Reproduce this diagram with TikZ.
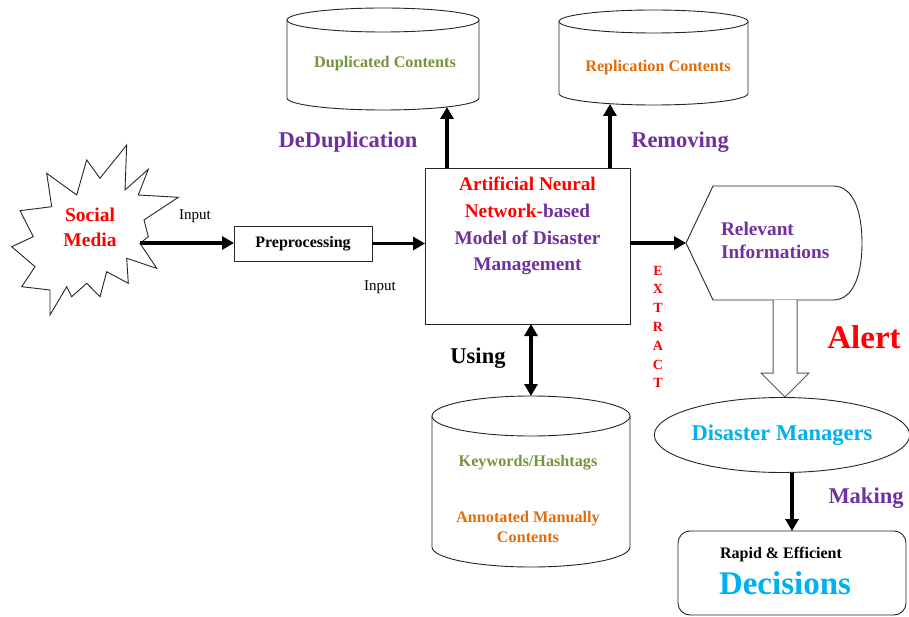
\documentclass[tikz,border=0pt]{standalone}
\usepackage{fontspec}
\setmainfont{Liberation Serif}
\usetikzlibrary{shapes.geometric,arrows.meta}
\definecolor{annred}{HTML}{FF0000}
\definecolor{annpurple}{HTML}{7030A0}
\definecolor{dbgreen}{HTML}{77933C}
\definecolor{dborange}{HTML}{E46C0A}
\definecolor{mgrcyan}{HTML}{00B0F0}
\newcommand{\setfs}[2]{\fontsize{#1}{#2}\selectfont}

\begin{document}
\begin{tikzpicture}[x=1pt,y=-1pt,
  every node/.style={inner sep=0pt,outer sep=0pt},
  outline/.style={draw=black!85,line width=0.9pt},
  arr/.style={line width=3.6pt,-{Triangle[length=12pt,width=13pt]}},
  darr/.style={line width=3.6pt,{Triangle[length=12pt,width=13pt]}-{Triangle[length=12pt,width=13pt]}},
  helper/.style={draw=none,fill=none},
  biglbl/.style={font=\bfseries\setfs{22.5}{26}},
  dbtext/.style={font=\bfseries\setfs{16.2}{20}},
  plain/.style={font=\setfs{15}{18}},
]
\useasboundingbox (0,0) rectangle (909,617);
\fill[white] (0,0) rectangle (909,617);

% ---------- Social media starburst ----------
\draw[outline,fill=white]
  (126.7,145) -- (125,190) -- (148.3,169.3) -- (138.3,195) -- (178.3,197.3)
  -- (144,220) -- (148.3,236.7) -- (140,243.3) -- (156.7,268.3) -- (126.7,258.3)
  -- (128.3,283.3) -- (106.7,271.7) -- (100,296.7) -- (86.7,283.3) -- (71.7,296.7)
  -- (66.7,286.7) -- (50,315) -- (50,290) -- (21.7,286.7) -- (35,266.7)
  -- (11.7,246.7) -- (33.3,236.7) -- (20,210.7) -- (51.7,206.7) -- (46.7,173.3)
  -- (76.7,195) -- (86.7,160) -- (100,178.3) -- cycle;
\node[text=annred,align=center,font=\bfseries\setfs{19.5}{25}] (sm) at (90,227) {Social\\Media};
\coordinate (smtip) at (140,243);

% ---------- Preprocessing ----------
\node[outline,minimum width=138pt,minimum height=35pt,font=\bfseries\setfs{16}{18}]
  (pre) at (303,243.5) {Preprocessing};
\node[plain] (in1) at (195,216) {Input};
\node[plain] (in2) at (380,287) {Input};

% ---------- ANN model ----------
\node[outline,minimum width=205pt,minimum height=156pt] (ann) at (527.5,246) {};
\node[align=center,text=annred,font=\bfseries\setfs{19.3}{26.7}] (anntext) at (527.5,226)
  {Artificial Neural\\Network-{\color{annpurple}based}\\{\color{annpurple}Model of Disaster}\\{\color{annpurple}Management}};

% ---------- Duplicated contents store ----------
\draw[outline,fill=white] (287,20) -- (287,98)
  arc[start angle=180,end angle=360,x radius=96pt,y radius=12pt] -- (479,20);
\draw[outline,fill=white] (383,20) ellipse [x radius=96pt,y radius=12pt];
\node[helper,minimum width=192pt,minimum height=99pt] (dup) at (383,57.5) {};
\node[dbtext,text=dbgreen] (duptext) at (385,64) {Duplicated Contents};

% ---------- Replication contents store ----------
\draw[outline,fill=white] (559,21.5) -- (559,93.5)
  arc[start angle=180,end angle=360,x radius=94.5pt,y radius=11.5pt] -- (748,21.5);
\draw[outline,fill=white] (653.5,21.5) ellipse [x radius=94.5pt,y radius=11.5pt];
\node[helper,minimum width=189pt,minimum height=94pt] (rep) at (653.5,57) {};
\node[dbtext,text=dborange] (reptext) at (658,68) {Replication Contents};

% ---------- Keywords store ----------
\draw[outline,fill=white] (432,416) -- (432,547)
  arc[start angle=180,end angle=360,x radius=99pt,y radius=20pt] -- (630,416);
\draw[outline,fill=white] (531,416) ellipse [x radius=99pt,y radius=20pt];
\node[helper,minimum width=198pt,minimum height=171pt] (kw) at (531,481.5) {};
\node[dbtext,text=dbgreen] (kwtext) at (528,463) {Keywords/Hashtags};
\node[dbtext,text=dborange,align=center] (amtext) at (528,527)
  {Annotated Manually\\Contents};

% ---------- Relevant informations ----------
\node[helper,minimum width=176pt,minimum height=114pt] (rel) at (774,243) {};
\draw[outline,fill=white] (rel.west) -- (713,186) -- (833,186)
  .. controls (855,186) and (862,215) .. (862,243)
  .. controls (862,271) and (855,300) .. (833,300) -- (713,300) -- cycle;
\node[anchor=west,align=left,text=annpurple,font=\bfseries\setfs{19.3}{23}] (reltext) at (721,240)
  {Relevant\\Informations};

% ---------- Alert block arrow ----------
\draw[draw=black!65,line width=1pt,fill=white]
  (773,300) -- (773,373) -- (761,373) -- (785,397) -- (809,373) -- (797,373) -- (797,300);

% ---------- Disaster managers ----------
\node[ellipse,outline,minimum width=254pt,minimum height=75pt,text=mgrcyan,font=\bfseries\setfs{22.5}{26}]
  (dm) at (782,435) {Disaster Managers};

% ---------- Decisions ----------
\node[outline,rounded corners=12pt,minimum width=228pt,minimum height=84pt] (dec) at (792,573) {};
\node[font=\bfseries\setfs{16}{18}] (rapid) at (781,555) {Rapid \& Efficient};
\node[text=mgrcyan,font=\bfseries\setfs{33}{36}] (decword) at (785,583) {Decisions};

% ---------- Connectors ----------
\coordinate (dupx) at (447,0);
\coordinate (repx) at (610,0);
\draw[arr] (smtip) -- (smtip -| pre.west);
\draw[arr] (pre.east) -- (pre.east -| ann.west);
\draw[arr] (ann.north -| dupx) -- (dupx |- dup.south);
\draw[arr] (ann.north -| repx) -- (repx |- rep.south);
\draw[arr] (ann.east |- rel.west) -- (rel.west);
\draw[darr] (ann.south -| kw.north) -- (kw.north);
\draw[arr] (dec.north |- dm.south) -- (dec.north);

% ---------- Labels ----------
\node[biglbl,text=annpurple] (lbldedup) at (348,142) {DeDuplication};
\node[biglbl,text=annpurple] (lblremove) at (680,142) {Removing};
\node[biglbl] (lblusing) at (478,358) {Using};
\node[biglbl,text=annpurple] (lblmaking) at (866,498) {Making};
\node[text=annred,font=\bfseries\setfs{33}{36}] (lblalert) at (864,337) {Alert};
\node[text=annred,align=center,font=\bfseries\setfs{14}{18.8}] (lblextract) at (658,327)
  {E\\X\\T\\R\\A\\C\\T};
\end{tikzpicture}
\end{document}
